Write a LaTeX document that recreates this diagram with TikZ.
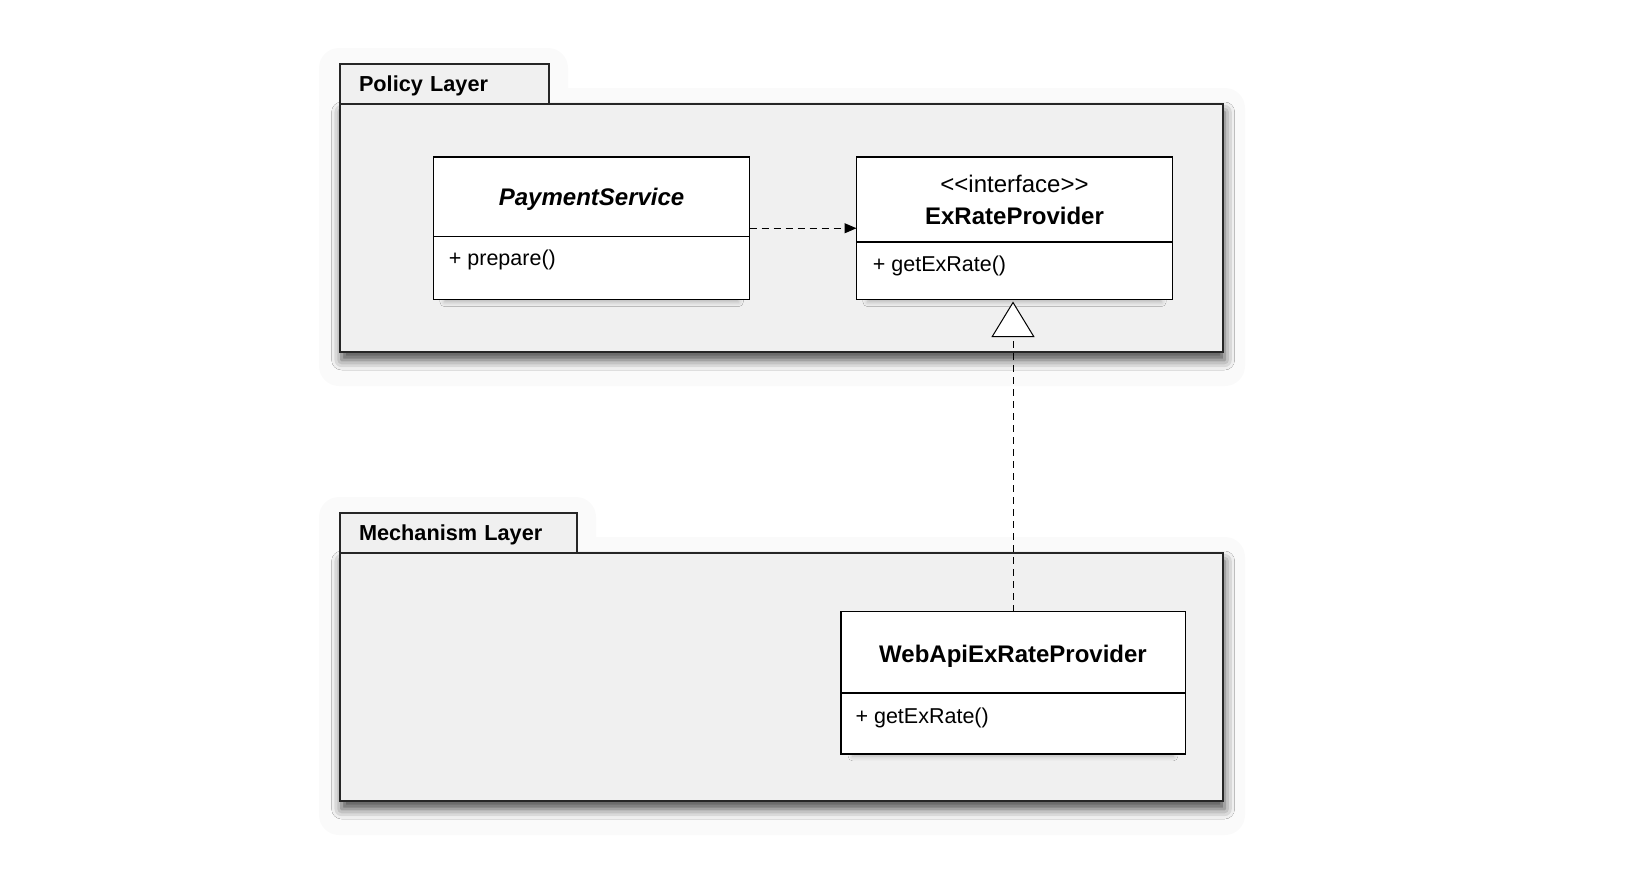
\documentclass[tikz,border=0pt]{standalone}
\usepackage{fontspec}
\setmainfont{Liberation Sans}
\usetikzlibrary{positioning, arrows.meta, shadows, shadows.blur}

\tikzset{
  layerbody/.style={draw=black!85, line width=1pt, fill=black!6, outer sep=0pt, anchor=north west,
    blur shadow={shadow xshift=0.8pt, shadow yshift=-4pt, shadow blur radius=5pt, shadow opacity=70}},
  layertab/.style={draw=black!85, line width=1pt, fill=black!6, outer sep=0pt, anchor=south west,
    minimum height=20pt, inner xsep=9.5pt, align=left, text depth=0pt,
    font=\fontsize{10.85}{13}\selectfont\bfseries},
  classbox/.style={draw, line width=0.75pt, fill=white, outer sep=0pt,
    blur shadow={shadow xshift=0pt, shadow yshift=-4pt, shadow scale=0.93,
      shadow blur radius=2.5pt, shadow opacity=25}},
  classname/.style={anchor=north, outer sep=0pt, inner sep=0pt, align=center, text depth=0pt,
    font=\fontsize{12}{15.85}\selectfont\bfseries},
  classline/.style={line width=0.75pt},
  member/.style={anchor=base west, inner sep=0pt, font=\fontsize{10.75}{13}\selectfont},
  dep/.style={line width=0.5pt, dash pattern=on 3.5pt off 2.5pt, -{Triangle[length=6pt,width=5pt]}},
  realize/.style={line width=0.5pt, dash pattern=on 3.5pt off 2.5pt,
    -{Triangle[open, fill=white, length=17.75pt, width=21.5pt]}},
  halo/.style={fill=black!2, draw=none, rounded corners=10pt},
}

\begin{document}
\begin{tikzpicture}[x=0.5pt, y=-0.5pt]
  \useasboundingbox (0,0) rectangle (1642,884);

  % faint halo round the packages
  \fill[halo] (319,48) rectangle (568,120);
  \fill[halo] (319,88) rectangle (1245,386);
  \fill[halo] (319,497) rectangle (596,570);
  \fill[halo] (319,537) rectangle (1245,835);

  % packages
  \node[layerbody, minimum width=441.5pt, minimum height=124pt] (policy) at (340,104) {};
  \node[layertab, text width=85.5pt] (policytab) at (policy.north west) {Policy Layer};
  \node[layerbody, minimum width=441.5pt, minimum height=124pt] (mech) at (340,553) {};
  \node[layertab, text width=99.5pt] (mechtab) at (mech.north west) {Mechanism Layer};

  % PaymentService
  \node[classbox, minimum width=158.1pt, minimum height=71.25pt] (pay) at (591.6,228.25) {};
  \node[classname, minimum height=39.8pt] (payname) at (pay.north) {\textit{PaymentService}};
  \coordinate (paydiv) at (pay.west |- payname.south);
  \draw[classline] (paydiv) -- (pay.east |- payname.south);
  \node[member] (payop) at ([shift={(7.5pt,-14.6pt)}]paydiv) {+ prepare()};

  % ExRateProvider
  \node[classbox, minimum width=158pt, minimum height=71.25pt] (iface) at (1014.5,228.25) {};
  \node[classname, minimum height=42.45pt] (ifacename) at (iface.north)
    {{\mdseries <{}<interface>{}>}\\ExRateProvider};
  \coordinate (ifacediv) at (iface.west |- ifacename.south);
  \draw[classline] (ifacediv) -- (iface.east |- ifacename.south);
  \node[member] (ifaceop) at ([shift={(8pt,-14.9pt)}]ifacediv) {+ getExRate()};

  % WebApiExRateProvider
  \node[classbox, minimum width=172.25pt, minimum height=71.15pt] (web) at (1013,682.65) {};
  \node[classname, minimum height=40.75pt] (webname) at (web.north) {};
  \node[classname, anchor=center] (webtitle) at ([yshift=-1pt]webname.center) {WebApiExRateProvider};
  \coordinate (webdiv) at (web.west |- webname.south);
  \draw[classline] (webdiv) -- (web.east |- webname.south);
  \node[member] (webop) at ([shift={(7.2pt,-15pt)}]webdiv) {+ getExRate()};

  % connectors
  \draw[dep] (pay) -- (iface);
  \coordinate (ifacefoot) at (web |- iface.south);
  \draw[realize] (web) -- ([yshift=-1pt]ifacefoot);
\end{tikzpicture}
\end{document}
